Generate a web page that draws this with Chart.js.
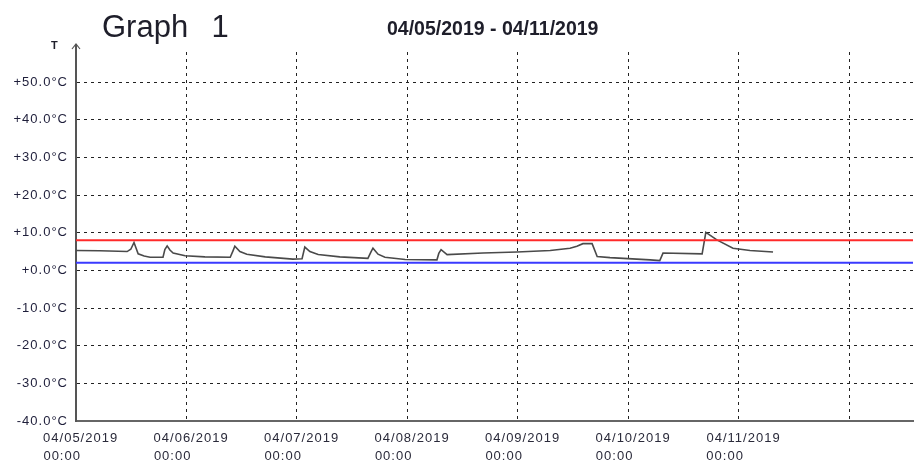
<!DOCTYPE html>
<html>
<head>
<meta charset="utf-8">
<script src="https://cdn.jsdelivr.net/npm/chart.js@4"></script>
<style>
  html, body { margin: 0; padding: 0; background: #fff; }
  #wrap { position: relative; width: 915px; height: 462px; }
  #title { position: absolute; left: 102px; top: 10px; font: 31px "Liberation Sans", Arial, sans-serif; line-height: 1.117; color: #1e1e2a; white-space: pre; word-spacing: 3px; }
  #range { position: absolute; left: 387px; top: 18px; font: bold 19.5px "Liberation Sans", Arial, sans-serif; line-height: 1.117; color: #1e1e2a; white-space: pre; }
  #tlabel { position: absolute; left: 51px; top: 39px; font: bold 11px "Liberation Sans", Arial, sans-serif; color: #1e1e2a; }
  canvas { position: absolute; left: 0; top: 0; }
</style>
</head>
<body>
<div id="wrap">
  <canvas id="c" width="915" height="462"></canvas>
  <div id="title">Graph  1</div>
  <div id="range">04/05/2019 - 04/11/2019</div>
  <div id="tlabel">T</div>
</div>
<script>
// ---- data (hours since 04/05/2019 00:00, temperature °C) ----
const hours = [0, 5.2, 11.1, 11.9, 12.6, 13.5, 14.8, 16.1, 18.9, 19.3, 19.8, 20.4, 21.1, 23.7, 28.0, 33.5, 34.1, 34.5, 35.6, 37.1, 41.1, 47.1, 49.1, 49.7, 50.8, 52.6, 57.3, 63.4, 64.1, 64.5, 65.6, 67.1, 71.5, 78.4, 78.8, 79.3, 80.6, 88.4, 95.8, 103.0, 107.3, 108.8, 110.1, 112.1, 113.2, 116.0, 124.7, 126.8, 127.5, 136.0, 136.8, 139.2, 142.7, 146.4, 151.4];
const temps = [5.3, 5.2, 5.0, 5.6, 7.4, 4.4, 3.8, 3.5, 3.5, 5.5, 6.5, 5.4, 4.6, 3.9, 3.6, 3.5, 5.2, 6.4, 5.0, 4.3, 3.6, 3.0, 3.1, 6.2, 5.0, 4.2, 3.6, 3.2, 5.0, 5.9, 4.3, 3.5, 2.9, 2.8, 4.5, 5.5, 4.2, 4.6, 4.9, 5.3, 5.9, 6.4, 7.1, 7.1, 3.7, 3.4, 2.8, 2.6, 4.6, 4.4, 10.1, 8.1, 5.9, 5.3, 4.9];
const upperLimit = 8;
const lowerLimit = 2;
const xTickDates = ["04/05/2019", "04/06/2019", "04/07/2019", "04/08/2019", "04/09/2019", "04/10/2019", "04/11/2019"];
const xTickTime = "00:00";
const xGridHours = [0, 24, 48, 72, 96, 120, 144, 168];
const yTickValues = [-40, -30, -20, -10, 0, 10, 20, 30, 40, 50];
const xMax = 181.8;
const yMin = -40, yMax = 58;

const series = hours.map((h, i) => ({ x: h, y: temps[i] }));

const textSpacing = {
  id: 'textSpacing',
  beforeDraw(chart) { chart.ctx.letterSpacing = '1px'; }
};

const axisArrow = {
  id: 'axisArrow',
  afterDraw(chart) {
    const ctx = chart.ctx;
    const a = chart.chartArea;
    const x = chart.scales.x.getPixelForValue(0);
    ctx.save();
    ctx.strokeStyle = '#555';
    ctx.lineWidth = 2;
    ctx.beginPath();
    ctx.moveTo(x, a.top);
    ctx.lineTo(x, a.top - 8);
    ctx.stroke();
    ctx.lineWidth = 1.2;
    ctx.beginPath();
    ctx.moveTo(x - 4, a.top - 3);
    ctx.lineTo(x, a.top - 8);
    ctx.lineTo(x + 4, a.top - 3);
    ctx.stroke();
    ctx.restore();
  }
};

new Chart(document.getElementById('c'), {
  type: 'line',
  data: {
    datasets: [
      { data: series, borderColor: '#4a4a4a', borderWidth: 1.6, pointRadius: 0, tension: 0, order: 3 },
      { data: [{ x: 0, y: upperLimit }, { x: xMax, y: upperLimit }], borderColor: '#ff2a2a', borderWidth: 2, pointRadius: 0, order: 1 },
      { data: [{ x: 0, y: lowerLimit }, { x: xMax, y: lowerLimit }], borderColor: '#3a3aff', borderWidth: 2, pointRadius: 0, order: 2 }
    ]
  },
  options: {
    responsive: false,
    animation: false,
    layout: { padding: { left: 0, top: 52, right: 2, bottom: 0 } },
    plugins: { legend: { display: false }, tooltip: { enabled: false }, title: { display: false } },
    scales: {
      x: {
        type: 'linear',
        min: 0,
        max: xMax,
        afterBuildTicks(scale) { scale.ticks = xGridHours.map(v => ({ value: v })); },
        afterFit(scale) { scale.height = 41; },
        grid: { color: '#222', lineWidth: 1, drawTicks: false },
        border: { display: true, color: '#666', width: 2, dash: [3, 4] },
        ticks: {
          autoSkip: false,
          maxRotation: 0,
          padding: 8,
          color: '#2a2a3a',
          font: { family: '"Liberation Sans", Arial, sans-serif', size: 13, lineHeight: 1.4 },
          callback(v) {
            const i = Math.round(v / 24);
            if (i < xTickDates.length) return ['  ' + xTickDates[i], xTickTime + '      '];
            return '';
          }
        }
      },
      y: {
        type: 'linear',
        min: yMin,
        max: yMax,
        afterBuildTicks(scale) { scale.ticks = yTickValues.map(v => ({ value: v })); },
        afterFit(scale) { scale.width = 76; },
        grid: { color: '#222', lineWidth: 1, drawTicks: false },
        border: { display: true, color: '#555', width: 2, dash: [3, 4] },
        ticks: {
          padding: 8,
          color: '#1e1e3a',
          font: { family: '"Liberation Sans", Arial, sans-serif', size: 13 },
          callback(v) { return (v < 0 ? '' : '+') + v.toFixed(1) + '°C'; }
        }
      }
    }
  },
  plugins: [textSpacing, axisArrow]
});
</script>
</body>
</html>
